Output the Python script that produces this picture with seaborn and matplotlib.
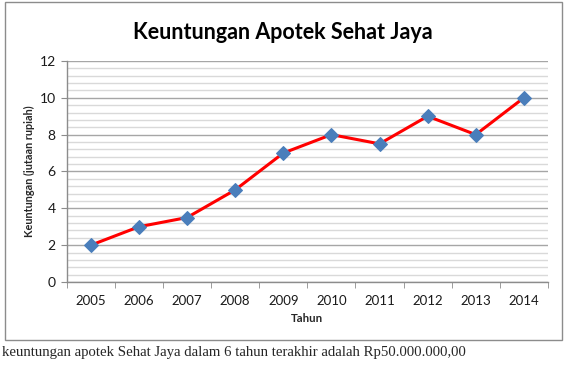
import numpy as np
import pandas as pd
import matplotlib
matplotlib.use("Agg")
import matplotlib.pyplot as plt
import seaborn as sns
from matplotlib.ticker import MultipleLocator, FixedLocator
from matplotlib.patches import Rectangle

# data
tahun = ["2005", "2006", "2007", "2008", "2009", "2010", "2011", "2012", "2013", "2014"]
keuntungan = [2, 3, 3.5, 5, 7, 8, 7.5, 9, 8, 10]

df = pd.DataFrame({"pos": np.arange(len(tahun)), "Keuntungan": keuntungan})

sns.set_style("white")
plt.rcParams["font.family"] = ["Lato", "DejaVu Sans"]

fig = plt.figure(figsize=(5.66, 3.66), dpi=100)
ax = fig.add_axes([0.118, 0.2295, 0.85, 0.604])

# outer chart frame
fig.patches.append(Rectangle((0.008, 0.072), 0.985, 0.922, transform=fig.transFigure,
                             fill=False, edgecolor="#8c8c8c", linewidth=1.0))

sns.lineplot(data=df, x="pos", y="Keuntungan", ax=ax, color="#ff0000", linewidth=2.2,
             marker="D", markersize=7.5, markerfacecolor="#4a7ebb",
             markeredgecolor="#4a7ebb", zorder=3)

ax.set_xlim(-0.5, len(tahun) - 0.5)
ax.set_ylim(0, 12)
ax.yaxis.set_major_locator(MultipleLocator(2))
ax.yaxis.set_minor_locator(MultipleLocator(0.4))
ax.grid(axis="y", which="major", color="#a6a6a6", linewidth=1.0)
ax.grid(axis="y", which="minor", color="#d9d9d9", linewidth=1.0)
ax.set_axisbelow(True)

ax.set_xticks(np.arange(len(tahun)))
ax.set_xticklabels(tahun)
ax.xaxis.set_minor_locator(FixedLocator(np.arange(-0.5, len(tahun), 1)))
ax.tick_params(axis="x", which="major", length=0, pad=9, labelsize=9.5, colors="#1a1a1a")
ax.tick_params(axis="x", which="minor", length=4, color="#8c8c8c", direction="out", bottom=True)
ax.tick_params(axis="y", which="major", length=4, color="#8c8c8c", direction="out", left=True,
               labelsize=10, colors="#1a1a1a", pad=4)
ax.tick_params(axis="y", which="minor", length=0)

for s in ["top", "right"]:
    ax.spines[s].set_visible(False)
for s in ["left", "bottom"]:
    ax.spines[s].set_color("#8c8c8c")
    ax.spines[s].set_linewidth(1.0)

ax.set_xlabel("Tahun", fontsize=8.2, fontweight="bold", labelpad=5)
ax.set_ylabel("Keuntungan (jutaan rupiah)", fontsize=7.8, fontweight="bold", labelpad=3)

fig.text(0.5, 0.912, "Keuntungan Apotek Sehat Jaya", ha="center", va="center",
         fontsize=15.5, fontweight="bold", color="black")

fig.text(0.003, 0.038, "keuntungan apotek Sehat Jaya dalam 6 tahun terakhir adalah Rp50.000.000,00",
         ha="left", va="center", fontsize=10.6, family=["Liberation Serif"])

fig.savefig("out.png", dpi=100)
